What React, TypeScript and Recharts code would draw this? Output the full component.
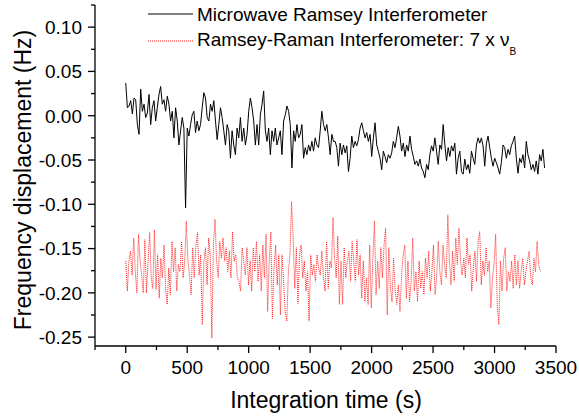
import React from "react";
import { LineChart, Line, XAxis, YAxis } from "recharts";

const FONT = "'Liberation Sans', Arial, sans-serif";

// sampling interval of each record (s)
const BLACK_STEP = 13.52;
const RED_STEP = 12.97;

// Microwave Ramsey Interferometer, frequency displacement (Hz)
const BLACK_VALUES = [
  0.037, 0.009, 0.011, 0.017, 0.002, 0.020, 0.018, -0.010, -0.021, 0.030,
  0.005, 0.013, -0.002, 0.003, 0.024, -0.010, 0.009, 0.017, -0.006, 0.009,
  0.024, 0.033, 0.013, 0.018, 0.005, 0.022, 0.013, -0.006, 0.005, -0.025,
  0.009, -0.006, -0.033, -0.017, -0.002, -0.014, -0.104, -0.014, -0.023, -0.010,
  0.001, 0.005, -0.019, -0.006, -0.017, -0.010, 0.009, 0.026, 0.020, -0.002,
  -0.006, 0.013, 0.005, 0.017, -0.006, -0.027, -0.010, 0.009, -0.002, -0.017,
  -0.033, -0.010, -0.017, -0.048, -0.017, -0.033, -0.044, -0.014, -0.025, -0.002,
  -0.029, -0.014, -0.033, -0.021, 0.005, 0.020, 0.009, -0.006, -0.033, -0.010,
  -0.033, 0.001, 0.013, 0.028, -0.017, -0.029, -0.014, -0.044, -0.017, -0.029,
  -0.014, -0.033, -0.025, -0.017, -0.044, -0.006, 0.001, 0.011, 0.005, -0.010,
  -0.059, -0.017, -0.029, -0.010, -0.025, -0.021, -0.010, -0.048, -0.036, -0.044,
  -0.033, -0.040, -0.029, -0.040, -0.025, -0.033, -0.036, -0.017, 0.005, -0.010,
  -0.017, -0.010, -0.025, -0.044, -0.021, -0.029,
  -0.029, -0.036, -0.057, -0.031, -0.044, -0.033, -0.042, -0.034, -0.063, -0.048,
  -0.023, -0.036, -0.029, -0.034, -0.027, -0.014, -0.008, -0.017, -0.025, -0.019,
  -0.029, -0.021, -0.046, -0.025, -0.008, -0.033, -0.040, -0.048, -0.061, -0.040,
  -0.046, -0.053, -0.044, -0.048, -0.042, -0.029, -0.036, -0.025, -0.012, -0.023,
  -0.040, -0.031, -0.046, -0.033, -0.040, -0.023, -0.038, -0.046, -0.055, -0.051,
  -0.057, -0.049, -0.059, -0.063, -0.070, -0.055, -0.061, -0.044, -0.034, -0.040,
  -0.025, -0.040, -0.055, -0.033, -0.038, -0.010, -0.033, -0.051, -0.036, -0.046,
  -0.034, -0.040, -0.031, -0.066, -0.048, -0.040, -0.063, -0.066, -0.049, -0.061,
  -0.055, -0.065, -0.040, -0.048, -0.055, -0.033, -0.025, -0.031, -0.025, -0.034,
  -0.057, -0.031, -0.023, -0.036, -0.048, -0.057, -0.048, -0.053, -0.059, -0.066,
  -0.053, -0.033, -0.036, -0.048, -0.038, -0.044, -0.034, -0.029, -0.023, -0.048,
  -0.065, -0.048, -0.053, -0.044, -0.059, -0.029, -0.044, -0.051, -0.061, -0.055,
  -0.063, -0.051, -0.066, -0.044, -0.051, -0.038, -0.059,
];

// Ramsey-Raman Interferometer (7 x nu_B), frequency displacement (Hz)
const RED_VALUES = [
  -0.164, -0.198, -0.164, -0.153, -0.180, -0.138, -0.176, -0.200, -0.134, -0.164,
  -0.180, -0.200, -0.140, -0.200, -0.164, -0.132, -0.183, -0.195, -0.129, -0.196,
  -0.157, -0.206, -0.161, -0.183, -0.146, -0.195, -0.213, -0.172, -0.202, -0.142,
  -0.176, -0.149, -0.198, -0.168, -0.176, -0.142, -0.183, -0.164, -0.119, -0.164,
  -0.180, -0.202, -0.149, -0.183, -0.146, -0.132, -0.180, -0.157, -0.236, -0.164,
  -0.149, -0.191, -0.138, -0.157, -0.251, -0.146, -0.117, -0.164, -0.183, -0.142,
  -0.161, -0.138, -0.164, -0.149, -0.176, -0.153, -0.183, -0.131, -0.164, -0.157,
  -0.183, -0.187, -0.198, -0.149, -0.164, -0.180, -0.149, -0.191, -0.164, -0.198,
  -0.149, -0.176, -0.142, -0.187, -0.157, -0.198, -0.146, -0.183, -0.134, -0.221,
  -0.164, -0.131, -0.229, -0.172, -0.146, -0.191, -0.157, -0.225, -0.157, -0.187,
  -0.221, -0.232, -0.176, -0.157, -0.097, -0.138, -0.195, -0.149, -0.212, -0.157,
  -0.146, -0.183, -0.164, -0.198, -0.176, -0.232, -0.157, -0.180, -0.168, -0.187,
  -0.157, -0.172, -0.180, -0.153, -0.183, -0.198, -0.142, -0.195, -0.164, -0.172,
  -0.115, -0.161, -0.183, -0.136, -0.213, -0.164,
  -0.213, -0.149, -0.183, -0.164, -0.153, -0.187, -0.142, -0.164, -0.187, -0.140,
  -0.180, -0.157, -0.206, -0.164, -0.210, -0.183, -0.213, -0.146, -0.217, -0.161,
  -0.119, -0.202, -0.164, -0.195, -0.149, -0.183, -0.146, -0.127, -0.225, -0.149,
  -0.195, -0.210, -0.161, -0.198, -0.213, -0.191, -0.221, -0.180, -0.157, -0.146,
  -0.206, -0.164, -0.210, -0.187, -0.138, -0.198, -0.176, -0.210, -0.164, -0.195,
  -0.176, -0.202, -0.161, -0.183, -0.153, -0.198, -0.176, -0.146, -0.202, -0.183,
  -0.142, -0.176, -0.191, -0.146, -0.168, -0.183, -0.112, -0.164, -0.191, -0.153,
  -0.187, -0.138, -0.168, -0.127, -0.164, -0.180, -0.161, -0.183, -0.138, -0.168,
  -0.157, -0.198, -0.172, -0.153, -0.187, -0.142, -0.131, -0.191, -0.164, -0.180,
  -0.149, -0.176, -0.164, -0.217, -0.183, -0.168, -0.134, -0.213, -0.236, -0.164,
  -0.198, -0.161, -0.149, -0.198, -0.176, -0.187, -0.164, -0.195, -0.157, -0.191,
  -0.164, -0.195, -0.176, -0.161, -0.191, -0.176, -0.164, -0.153, -0.183, -0.191,
  -0.161, -0.176, -0.142, -0.168, -0.176,
];

const X_TICKS = [-250, 0, 250, 500, 750, 1000, 1250, 1500, 1750, 2000, 2250, 2500, 2750, 3000, 3250, 3500];
const Y_TICKS = [
  -0.25, -0.225, -0.2, -0.175, -0.15, -0.125, -0.1, -0.075, -0.05, -0.025,
  0, 0.025, 0.05, 0.075, 0.1, 0.125,
];

const blackData = BLACK_VALUES.map((v, i) => ({ t: i * BLACK_STEP, v }));
const redData = RED_VALUES.map((v, i) => ({ t: i * RED_STEP, v }));

function XTick(props: any) {
  const { x, y, payload } = props;
  const v = payload.value;
  const major = v % 500 === 0;
  return (
    <g>
      <line x1={x} x2={x} y1={y} y2={y + (major ? 7 : 4)} stroke="#000" strokeWidth={1.3} />
      {major && (
        <text x={x} y={y + 27.5} textAnchor="middle" fontSize={19} fontFamily={FONT} fill="#000">
          {v}
        </text>
      )}
    </g>
  );
}

function YTick(props: any) {
  const { x, y, payload } = props;
  const v = payload.value;
  const major = Math.abs(v * 20 - Math.round(v * 20)) < 1e-6;
  return (
    <g>
      <line x1={x - (major ? 7 : 4)} x2={x} y1={y} y2={y} stroke="#000" strokeWidth={1.3} />
      {major && (
        <text x={x - 13} y={y + 6.8} textAnchor="end" fontSize={19} fontFamily={FONT} fill="#000">
          {v.toFixed(2)}
        </text>
      )}
    </g>
  );
}

export default function App() {
  return (
    <div style={{ position: "absolute", left: 0, top: 0, width: 579, height: 417, background: "#fff" }}>
      <LineChart width={579} height={417} margin={{ top: 5, right: 23, bottom: 0, left: 0 }}>
        <XAxis
          type="number"
          dataKey="t"
          domain={[-250, 3500]}
          ticks={X_TICKS}
          interval={0}
          allowDataOverflow
          height={71}
          tickSize={0}
          tickMargin={0}
          tickLine={false}
          tick={<XTick />}
          axisLine={{ stroke: "#000", strokeWidth: 1.3 }}
        />
        <YAxis
          type="number"
          dataKey="v"
          domain={[-0.26, 0.125]}
          ticks={Y_TICKS}
          interval={0}
          allowDataOverflow
          width={95}
          tickSize={0}
          tickMargin={0}
          tickLine={false}
          tick={<YTick />}
          axisLine={{ stroke: "#000", strokeWidth: 1.3 }}
        />
        <Line
          data={redData}
          dataKey="v"
          stroke="#ff2020"
          strokeWidth={1}
          strokeDasharray="1 1"
          dot={false}
          activeDot={false}
          isAnimationActive={false}
        />
        <Line
          data={blackData}
          dataKey="v"
          stroke="#000"
          strokeWidth={1}
          dot={false}
          activeDot={false}
          isAnimationActive={false}
        />
      </LineChart>
      <svg
        width={579}
        height={417}
        style={{ position: "absolute", left: 0, top: 0, pointerEvents: "none" }}
        fontFamily={FONT}
      >
        <line x1={148} x2={193} y1={14} y2={14} stroke="#000" strokeWidth={1} />
        <text x={197} y={21} fontSize={19} fill="#000">
          Microwave Ramsey Interferometer
        </text>
        <line x1={148} x2={193} y1={41} y2={41} stroke="#ff2020" strokeWidth={1} strokeDasharray="1 1" />
        <text x={197} y={46} fontSize={19} fill="#000">
          Ramsey-Raman Interferometer: 7 x ν
          <tspan fontSize={10} dy={9}>B</tspan>
        </text>
        <text x={326} y={408} textAnchor="middle" fontSize={23} fill="#000">
          Integration time (s)
        </text>
        <text x={31} y={180} textAnchor="middle" fontSize={23} fill="#000" transform="rotate(-90 31 180)">
          Frequency displacement (Hz)
        </text>
      </svg>
    </div>
  );
}
